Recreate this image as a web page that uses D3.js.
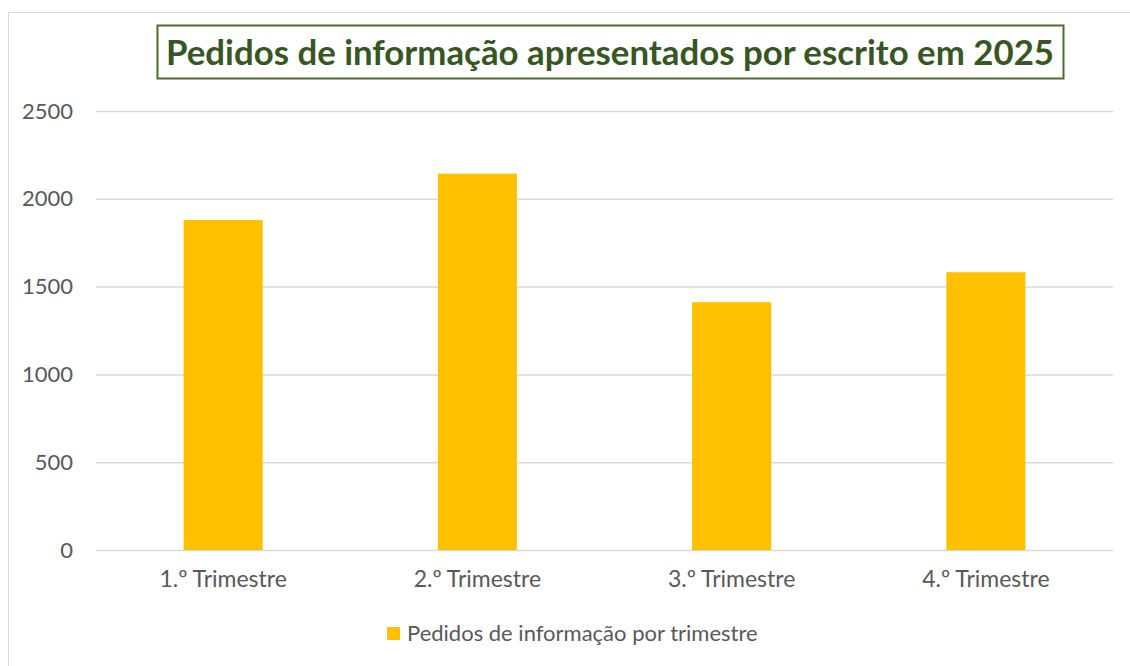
<!DOCTYPE html>
<html>
<head>
<meta charset="utf-8">
<script src="https://cdn.jsdelivr.net/npm/d3@7"></script>
<style>
  body { margin: 0; background: #fff; }
  text { font-family: Lato, "Open Sans", sans-serif; }
</style>
</head>
<body>
<script>
let width = 1130,
  height = 666;

const title = "Pedidos de informação apresentados por escrito em 2025";
const seriesName = "Pedidos de informação por trimestre";
const categories = ["1.º Trimestre", "2.º Trimestre", "3.º Trimestre", "4.º Trimestre"];
const values = [1879, 2143, 1411, 1582];
const yTicks = [0, 500, 1000, 1500, 2000, 2500];

const barColor = "#FFC000",
  gridColor = "#d9d9d9",
  textColor = "#595959";

let svg = d3.select("body").append("svg")
  .attr("width", width)
  .attr("height", height);

// chart area frame
svg.append("rect")
  .attr("x", 8.5).attr("y", 12.5)
  .attr("width", 1200).attr("height", 700)
  .attr("fill", "#fff")
  .attr("stroke", gridColor);

let x = d3.scaleBand()
  .domain(categories)
  .range([96, 1113])
  .paddingInner(0.689)
  .paddingOuter(0.689 / 2);

let y = d3.scaleLinear()
  .domain([0, 2500])
  .range([550, 111]);

// gridlines
svg.append("g")
  .selectAll("line")
  .data(yTicks)
  .enter().append("line")
  .attr("x1", 96).attr("x2", 1113)
  .attr("y1", d => y(d) + 0.5).attr("y2", d => y(d) + 0.5)
  .attr("stroke", gridColor)
  .attr("stroke-width", 1.5);

// y labels
let yAxis = d3.axisLeft(y).tickValues(yTicks).tickFormat(d3.format("d")).tickSize(0).tickPadding(0);
svg.append("g")
  .attr("transform", "translate(73,0)")
  .call(yAxis)
  .call(g => g.select(".domain").remove())
  .selectAll("text")
  .attr("fill", textColor)
  .style("font-size", "22px")
  .style("font-family", "Lato, sans-serif");

// bars
svg.append("g")
  .selectAll("rect")
  .data(values)
  .enter().append("rect")
  .attr("x", (d, i) => x(categories[i]))
  .attr("width", x.bandwidth())
  .attr("y", d => y(d))
  .attr("height", d => y(0) - y(d))
  .attr("fill", barColor);

// x labels
let xAxis = d3.axisBottom(x).tickSize(0).tickPadding(0);
svg.append("g")
  .attr("transform", "translate(0,571)")
  .call(xAxis)
  .call(g => g.select(".domain").remove())
  .selectAll("text")
  .attr("fill", textColor)
  .style("font-size", "23px")
  .style("font-family", "Lato, sans-serif");

// title box
svg.append("rect")
  .attr("x", 157.5).attr("y", 25.5)
  .attr("width", 906).attr("height", 53)
  .attr("fill", "#fff")
  .attr("stroke", "#4e6b2e")
  .attr("stroke-width", 2);

svg.append("text")
  .attr("x", 610).attr("y", 65)
  .attr("text-anchor", "middle")
  .attr("fill", "#375623")
  .attr("font-weight", "bold")
  .style("font-size", "35px")
  .attr("textLength", 888)
  .attr("lengthAdjust", "spacingAndGlyphs")
  .text(title);

// legend
let legend = svg.append("g").attr("transform", "translate(387,627)");
legend.append("rect")
  .attr("width", 13).attr("height", 13)
  .attr("fill", barColor);
legend.append("text")
  .attr("x", 20).attr("y", 14)
  .attr("fill", textColor)
  .style("font-size", "22px")
  .text(seriesName);
</script>
</body>
</html>
